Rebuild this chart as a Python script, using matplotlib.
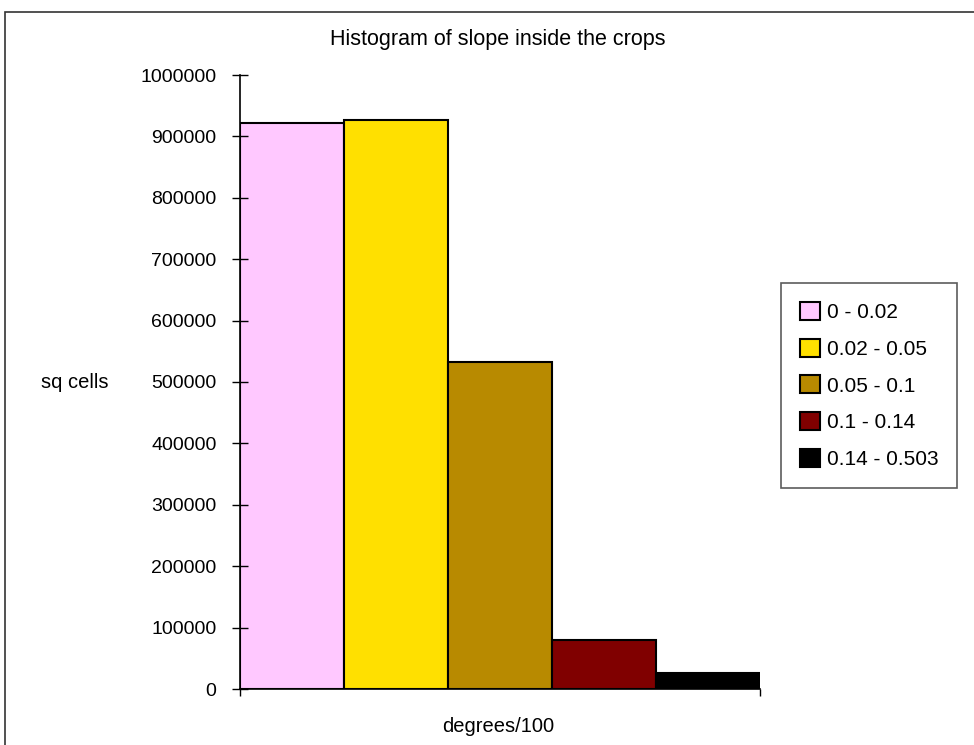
import matplotlib
matplotlib.use('Agg')
import matplotlib.pyplot as plt
from matplotlib.patches import Rectangle

# slope classes (degrees/100) and number of cells per class
classes = ['0 - 0.02', '0.02 - 0.05', '0.05 - 0.1', '0.1 - 0.14', '0.14 - 0.503']
counts = [922000, 927000, 533000, 80000, 26000]
colors = ['#FFC8FF', '#FFE000', '#B88A00', '#800000', '#000000']
yticks = [0, 100000, 200000, 300000, 400000, 500000, 600000, 700000, 800000, 900000, 1000000]

plt.rcParams['font.family'] = ['Liberation Sans', 'DejaVu Sans']

fig = plt.figure(figsize=(9.74, 7.45), dpi=100)
fig.patch.set_facecolor('white')

# outer chart-area border
fig.patches.append(Rectangle((5 / 974, -0.01), 1.0, 1 - 12 / 745 + 0.01,
                             transform=fig.transFigure, fill=False,
                             edgecolor='#333333', linewidth=1.2))

ax = fig.add_axes([240 / 974, 1 - 689 / 745, (760 - 240) / 974, (689 - 75) / 745])

for i, (lab, val, col) in enumerate(zip(classes, counts, colors)):
    ax.bar(i, val, width=1.0, align='edge', color=col, edgecolor='black',
           linewidth=1.5, label=lab)

ax.set_xlim(0, len(classes))
ax.set_ylim(0, 1000000)
ax.set_yticks(yticks)
ax.set_yticklabels([str(v) for v in yticks], fontsize=14)
ax.set_xticks([0, len(classes)])
ax.set_xticklabels([])
ax.tick_params(axis='y', direction='inout', length=12, width=1, pad=11)
ax.tick_params(axis='x', direction='out', length=5, width=1)

for side in ['top', 'right']:
    ax.spines[side].set_visible(False)
for side in ['left', 'bottom']:
    ax.spines[side].set_linewidth(1.2)

fig.text(498 / 974, 1 - 39 / 745, 'Histogram of slope inside the crops',
         ha='center', va='center', fontsize=15.5)
fig.text(75 / 974, 1 - 383 / 745, 'sq cells', ha='center', va='center', fontsize=14.5)
fig.text(498 / 974, 1 - 727 / 745, 'degrees/100', ha='center', va='center', fontsize=14.5)

leg = ax.legend(loc='upper left', bbox_to_anchor=(781 / 974, 1 - 283 / 745),
                bbox_transform=fig.transFigure, fontsize=15, frameon=True,
                fancybox=False, edgecolor='#333333', handlelength=0.95,
                handleheight=0.95, handletextpad=0.35, labelspacing=0.8,
                borderpad=0.9, borderaxespad=0)
leg.get_frame().set_linewidth(1.2)

fig.savefig('out.png', dpi=100, facecolor='white')
